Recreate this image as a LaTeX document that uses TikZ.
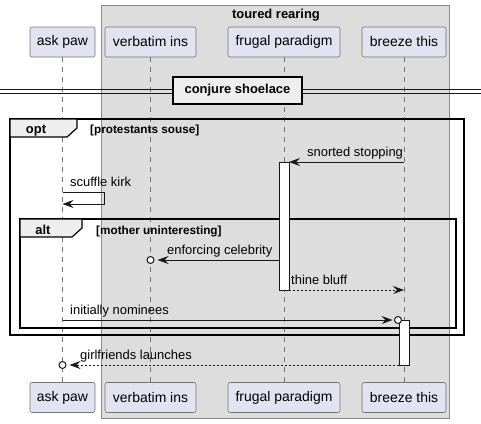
\documentclass[tikz,border=0pt]{standalone}
\usepackage{fontspec}
\setmainfont{Liberation Sans}
\usetikzlibrary{arrows.meta}
\definecolor{Lane}{HTML}{E2E2F0}
\definecolor{Group}{HTML}{DDDDDD}
\definecolor{Tab}{HTML}{EEEEEE}
\definecolor{Edge}{HTML}{181818}

\begin{document}
\begin{tikzpicture}[x=1bp, y=-1bp, every node/.style={font=\fontsize{13}{15}\selectfont, inner sep=0pt},
  actor/.style={draw=Edge!60, fill=Lane, rounded corners=2bp, minimum height=30bp, font=\fontsize{14}{16}\selectfont, line width=0.6bp},
  life/.style={Edge!60, dash pattern=on 5bp off 5bp, line width=0.6bp},
  msg/.style={Edge, line width=0.8bp, -{Stealth[length=11bp,width=8bp,inset=4bp]}},
  reply/.style={msg, dash pattern=on 2bp off 2bp},
  bar/.style={draw=Edge, fill=white, line width=0.8bp, minimum width=10bp},
  frame/.style={draw=black, line width=1.6bp},
  tab/.style={draw=black, fill=Tab, line width=1.2bp},
  lost/.style={draw=Edge, fill=white, circle, line width=1bp, minimum size=7bp},
  lbl/.style={anchor=base west},
  hdr/.style={anchor=base, font=\fontsize{13}{15}\selectfont\bfseries},
  guard/.style={anchor=base west, font=\fontsize{11.8}{14}\selectfont\bfseries}]
  \useasboundingbox (0,0) rectangle (481,423);
  % group box
  \draw[fill=Group, draw=Edge!50, line width=0.8bp] (101,5) rectangle (449,418);
  \node[hdr] (grp) at (276,18) {toured rearing};
  % participants
  \node[actor, minimum width=65bp] (ap) at (62.5,42) {ask paw};
  \node[actor, minimum width=91bp] (vi) at (150.5,42) {verbatim ins};
  \node[actor, minimum width=112bp] (fp) at (284,42) {frugal paradigm};
  \node[actor, minimum width=84bp] (bt) at (404,42) {breeze this};
  \node[actor, minimum width=65bp] (ap2) at (62.5,397.5) {ask paw};
  \node[actor, minimum width=91bp] (vi2) at (150.5,397.5) {verbatim ins};
  \node[actor, minimum width=112bp] (fp2) at (284,397.5) {frugal paradigm};
  \node[actor, minimum width=84bp] (bt2) at (404,397.5) {breeze this};
  \draw[life] (ap) -- (ap2);
  \draw[life] (vi) -- (vi2);
  \draw[life] (fp) -- (fp2);
  \draw[life] (bt) -- (bt2);
  % divider
  \draw[Edge, line width=1bp] (0,89) -- (481,89) (0,93) -- (481,93);
  \node[draw=black, fill=Tab, line width=2bp, minimum width=129bp, minimum height=27bp,
        font=\fontsize{13}{15}\selectfont\bfseries] (div) at (237.5,90.5) {conjure shoelace};
  % opt frame
  \draw[frame] (10,119) rectangle (464,335);
  \draw[tab] (10,119) -- (77,119) -- (77,128) -- (67,137) -- (10,137) -- cycle;
  \node[hdr] (opt) at (36,133) {opt};
  \node[guard] (optg) at (90,133) {[protestants souse]};
  % alt frame
  \draw[frame] (20,219) rectangle (456,328);
  \draw[tab] (20,219) -- (82,219) -- (82,228) -- (72,237) -- (20,237) -- cycle;
  \node[hdr] (alt) at (43,234) {alt};
  \node[guard] (altg) at (96,234) {[mother uninteresting]};
  % activations
  \node[bar, minimum height=128bp] (act1) at (284,226) {};
  \node[bar, minimum height=45bp] (act2) at (404,342.5) {};
  % messages
  \coordinate (bt1) at (404,162);
  \coordinate (fpA) at (289,162);
  \draw[msg] (bt1) -- (fpA);
  \node[lbl] (m1) at (307,156) {snorted stopping};
  \coordinate (ap1) at (62.5,192);
  \coordinate (ap1b) at (62.5,204);
  \draw[msg] (ap1) -- (104,192) -- (104,204) -- (ap1b);
  \node[lbl] (m2) at (70,186) {scuffle kirk};
  \node[lost] (c1) at (150.5,260) {};
  \coordinate (fpB) at (279,260);
  \draw[msg, shorten >=3bp] (fpB) -- (c1.east);
  \node[lbl] (m3) at (167,254) {enforcing celebrity};
  \coordinate (fpC) at (289,290);
  \coordinate (bt3) at (404,290);
  \draw[reply] (fpC) -- (bt3);
  \node[lbl] (m4) at (291,284) {thine bluff};
  \coordinate (ap4) at (62.5,320);
  \node[lost] (c2) at (398,320) {};
  \draw[msg, shorten >=1.5bp] (ap4) -- (c2.west);
  \node[lbl] (m5) at (70,314) {initially nominees};
  \coordinate (btD) at (399,365);
  \node[lost] (c3) at (62.5,365) {};
  \draw[reply, shorten >=3bp] (btD) -- (c3.east);
  \node[lbl] (m6) at (80,359) {girlfriends launches};
\end{tikzpicture}
\end{document}
